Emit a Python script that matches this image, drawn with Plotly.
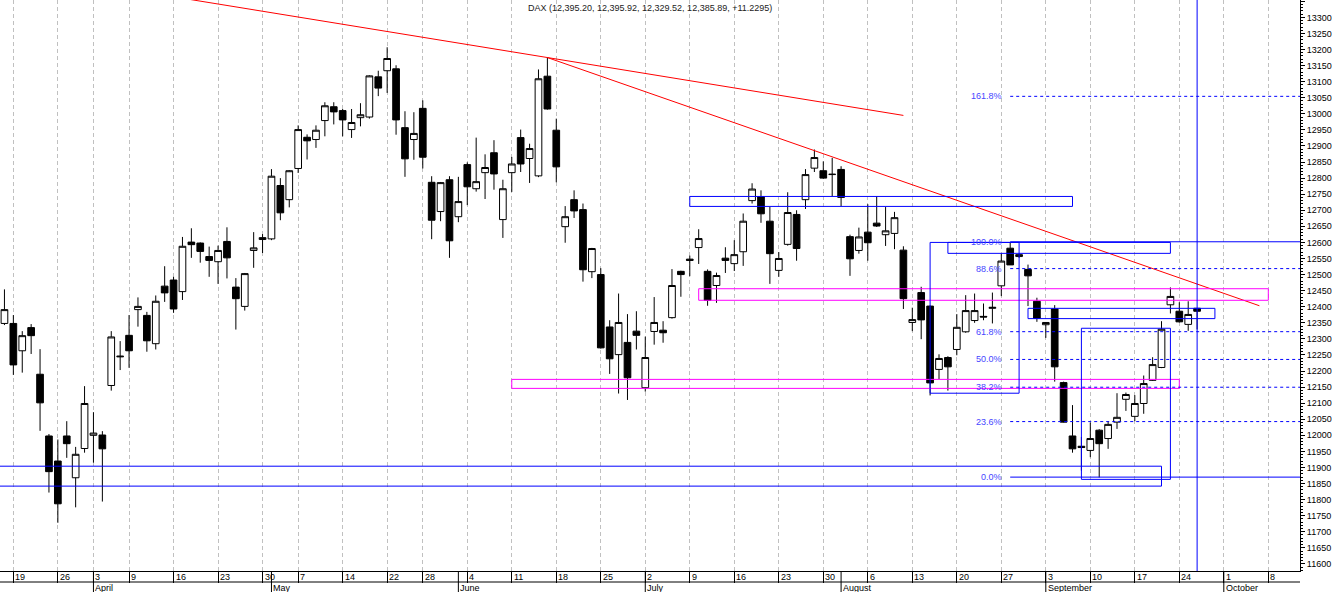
import plotly.graph_objects as go

# daily DAX candles (Xetra trading days)
dates = [
    "2018-03-16", "2018-03-19", "2018-03-20", "2018-03-21", "2018-03-22", "2018-03-23",
    "2018-03-26", "2018-03-27", "2018-03-28", "2018-03-29",
    "2018-04-03", "2018-04-04", "2018-04-05", "2018-04-06",
    "2018-04-09", "2018-04-10", "2018-04-11", "2018-04-12", "2018-04-13",
    "2018-04-16", "2018-04-17", "2018-04-18", "2018-04-19", "2018-04-20",
    "2018-04-23", "2018-04-24", "2018-04-25", "2018-04-26", "2018-04-27",
    "2018-04-30", "2018-05-02", "2018-05-03", "2018-05-04",
    "2018-05-07", "2018-05-08", "2018-05-09", "2018-05-10", "2018-05-11",
    "2018-05-14", "2018-05-15", "2018-05-16", "2018-05-17", "2018-05-18",
    "2018-05-22", "2018-05-23", "2018-05-24", "2018-05-25",
    "2018-05-28", "2018-05-29", "2018-05-30", "2018-05-31", "2018-06-01",
    "2018-06-04", "2018-06-05", "2018-06-06", "2018-06-07", "2018-06-08",
    "2018-06-11", "2018-06-12", "2018-06-13", "2018-06-14", "2018-06-15",
    "2018-06-18", "2018-06-19", "2018-06-20", "2018-06-21", "2018-06-22",
    "2018-06-25", "2018-06-26", "2018-06-27", "2018-06-28", "2018-06-29",
    "2018-07-02", "2018-07-03", "2018-07-04", "2018-07-05", "2018-07-06",
    "2018-07-09", "2018-07-10", "2018-07-11", "2018-07-12", "2018-07-13",
    "2018-07-16", "2018-07-17", "2018-07-18", "2018-07-19", "2018-07-20",
    "2018-07-23", "2018-07-24", "2018-07-25", "2018-07-26", "2018-07-27",
    "2018-07-30", "2018-07-31", "2018-08-01", "2018-08-02", "2018-08-03",
    "2018-08-06", "2018-08-07", "2018-08-08", "2018-08-09", "2018-08-10",
    "2018-08-13", "2018-08-14", "2018-08-15", "2018-08-16", "2018-08-17",
    "2018-08-20", "2018-08-21", "2018-08-22", "2018-08-23", "2018-08-24",
    "2018-08-27", "2018-08-28", "2018-08-29", "2018-08-30", "2018-08-31",
    "2018-09-03", "2018-09-04", "2018-09-05", "2018-09-06", "2018-09-07",
    "2018-09-10", "2018-09-11", "2018-09-12", "2018-09-13", "2018-09-14",
    "2018-09-17", "2018-09-18", "2018-09-19", "2018-09-20", "2018-09-21",
    "2018-09-24", "2018-09-25", "2018-09-26",
]
opens = [
    12348, 12348, 12263, 12335, 12190, 11998, 11920, 11998, 11868, 11959,
    12000, 12001, 12155, 12244, 12311, 12391, 12373, 12285, 12464,
    12483, 12447, 12601, 12598, 12556, 12540, 12603, 12461, 12401, 12575,
    12609, 12611, 12777, 12733, 12830, 12927, 12920, 12979, 13022,
    13010, 12951, 12988, 12990, 13115, 13134, 13140, 12957, 12920,
    13017, 12787, 12696, 12795, 12680, 12842, 12767, 12817, 12879, 12671,
    12817, 12926, 12861, 12807, 13117, 12949, 12649, 12733, 12702, 12509,
    12500, 12337, 12251, 12289, 12324, 12148, 12323, 12327, 12366, 12510,
    12548, 12584, 12510, 12466, 12551, 12534, 12571, 12730, 12742, 12666,
    12513, 12594, 12687, 12733, 12831, 12823, 12811, 12827, 12618, 12575,
    12632, 12660, 12624, 12628, 12576, 12351, 12444, 12402, 12205, 12242,
    12267, 12322, 12357, 12370, 12395, 12465, 12582, 12556, 12516, 12417,
    12344, 12393, 12164, 11998, 11966, 11953, 12016, 11990, 12041, 12112,
    12059, 12099, 12171, 12211, 12406, 12386, 12345, 12395.20,
]
highs = [
    12454, 12374, 12324, 12346, 12268, 12004, 11987, 12044, 11964, 12153,
    12072, 12013, 12324, 12293, 12374, 12429, 12384, 12435, 12526,
    12493, 12617, 12644, 12600, 12587, 12590, 12647, 12489, 12505, 12632,
    12626, 12828, 12800, 12825, 12964, 12936, 12964, 13036, 13036,
    13015, 13015, 13033, 13120, 13134, 13207, 13151, 13008, 13005,
    13042, 12806, 12788, 12806, 12804, 12849, 12926, 12874, 12918, 12795,
    12866, 12951, 12907, 13138, 13175, 12985, 12713, 12762, 12721, 12583,
    12520, 12358, 12441, 12377, 12386, 12307, 12430, 12355, 12517, 12512,
    12559, 12641, 12516, 12506, 12585, 12607, 12690, 12784, 12762, 12711,
    12570, 12756, 12700, 12828, 12889, 12852, 12863, 12837, 12624, 12646,
    12719, 12744, 12710, 12695, 12588, 12397, 12462, 12404, 12252, 12246,
    12377, 12436, 12441, 12410, 12444, 12566, 12601, 12566, 12531, 12428,
    12352, 12405, 12167, 12094, 11995, 12040, 12019, 12044, 12131, 12133,
    12125, 12186, 12243, 12355, 12460, 12414, 12417, 12395.92,
]
lows = [
    12343, 12188, 12195, 12253, 12014, 11822, 11728, 11930, 11776, 11946,
    11915, 11794, 12139, 12203, 12210, 12338, 12260, 12267, 12415,
    12381, 12421, 12552, 12537, 12493, 12471, 12488, 12329, 12388, 12521,
    12567, 12607, 12669, 12709, 12816, 12858, 12894, 12930, 12967,
    12930, 12925, 12961, 12985, 13055, 13065, 12935, 12804, 12857,
    12830, 12610, 12666, 12552, 12663, 12716, 12758, 12735, 12764, 12614,
    12757, 12819, 12785, 12803, 13013, 12787, 12599, 12676, 12478, 12489,
    12270, 12191, 12130, 12110, 12267, 12136, 12282, 12288, 12363, 12431,
    12495, 12533, 12403, 12412, 12505, 12511, 12527, 12721, 12661, 12471,
    12493, 12590, 12543, 12704, 12819, 12798, 12743, 12713, 12496, 12565,
    12543, 12648, 12589, 12579, 12393, 12324, 12299, 12124, 12175, 12139,
    12249, 12319, 12350, 12358, 12348, 12433, 12530, 12552, 12402, 12353,
    12303, 12167, 12040, 11946, 11890, 11932, 11869, 11958, 12020, 12076,
    12044, 12067, 12169, 12209, 12379, 12351, 12325, 12329.52,
]
closes = [
    12391, 12219, 12310, 12310, 12101, 11887, 11787, 11974, 11941, 12099,
    12007, 11958, 12306, 12246, 12263, 12401, 12294, 12417, 12443,
    12393, 12588, 12593, 12572, 12544, 12575, 12552, 12425, 12503, 12583,
    12615, 12806, 12692, 12823, 12951, 12916, 12949, 13025, 13006,
    12981, 12973, 12997, 13118, 13080, 13172, 12981, 12860, 12939,
    12865, 12669, 12786, 12605, 12727, 12773, 12789, 12833, 12813, 12767,
    12844, 12844, 12892, 13109, 13015, 12835, 12680, 12698, 12515, 12581,
    12272, 12238, 12351, 12179, 12311, 12242, 12351, 12319, 12466, 12500,
    12544, 12612, 12420, 12497, 12544, 12562, 12666, 12766, 12689, 12565,
    12550, 12693, 12581, 12811, 12864, 12800, 12812, 12740, 12549, 12617,
    12599, 12651, 12636, 12677, 12425, 12360, 12359, 12163, 12239, 12213,
    12336, 12388, 12388, 12368, 12398, 12542, 12530, 12562, 12496, 12364,
    12351, 12213, 12041, 11958, 11962, 11990, 11974, 12034, 12056, 12127,
    12099, 12161, 12220, 12330, 12432, 12353, 12376, 12385.89,
]

# empty trading days to the right of the last candle
future_dates = [
    "2018-09-27", "2018-09-28", "2018-10-01", "2018-10-02", "2018-10-03",
    "2018-10-04", "2018-10-05", "2018-10-08", "2018-10-09", "2018-10-10",
    "2018-10-11", "2018-10-12",
]

week_starts = [
    "2018-03-19", "2018-03-26", "2018-04-03", "2018-04-09", "2018-04-16",
    "2018-04-23", "2018-04-30", "2018-05-07", "2018-05-14", "2018-05-22",
    "2018-05-28", "2018-06-04", "2018-06-11", "2018-06-18", "2018-06-25",
    "2018-07-02", "2018-07-09", "2018-07-16", "2018-07-23", "2018-07-30",
    "2018-08-06", "2018-08-13", "2018-08-20", "2018-08-27", "2018-09-03",
    "2018-09-10", "2018-09-17", "2018-09-24", "2018-10-01", "2018-10-08",
]
week_labels = ["19", "26", "3", "9", "16", "23", "30", "7", "14", "22", "28",
               "4", "11", "18", "25", "2", "9", "16", "23", "30", "6", "13",
               "20", "27", "3", "10", "17", "24", "1", "8"]
month_starts = ["2018-04-03", "2018-05-02", "2018-06-01", "2018-07-02",
                "2018-08-01", "2018-09-03", "2018-10-01"]
month_labels = ["April", "May", "June", "July", "August", "September", "October"]

# fibonacci retracement (Aug 28 high -> Sep 11 low)
fib_ratios = [161.8, 100.0, 88.6, 61.8, 50.0, 38.2, 23.6, 0.0]
fib_high = 12602
fib_low = 11870
fib_start = "2018-08-28"

# trend lines: start date, price, end date, price
trend_lines = [
    ("2018-04-16", 13364, "2018-08-10", 12995),
    ("2018-06-15", 13175, "2018-10-05", 12403),
]

# rectangles: start date (None = off chart), end date, low, high, colour
boxes = [
    (None, "2018-09-20", 11842, 11904, "#0000ff"),
    ("2018-07-09", "2018-09-06", 12712, 12743, "#0000ff"),
    ("2018-07-10", "2018-10-08", 12420, 12456, "#ff00ff"),
    ("2018-06-11", "2018-09-24", 12146, 12174, "#ff00ff"),
    ("2018-08-15", "2018-08-29", 12131, 12600, "#0000ff"),
    ("2018-08-17", "2018-09-21", 12566, 12600, "#0000ff"),
    ("2018-08-30", "2018-09-28", 12363, 12395, "#0000ff"),
    ("2018-09-07", "2018-09-21", 11863, 12333, "#0000ff"),
]
cursor_date = "2018-09-26"

title_text = "DAX (12,395.20, 12,395.92, 12,329.52, 12,385.89, +11.2295)"

x_range = [-0.5, 145.56]
y_range = [11578, 13354]

pos = {d: i for i, d in enumerate(dates + future_dates)}
x = [pos[d] for d in dates]

FONT = "Liberation Sans"
plot_h = 571  # px height of the plotting area

fig = go.Figure(go.Candlestick(
    x=x, open=opens, high=highs, low=lows, close=closes,
    increasing=dict(line=dict(color="black", width=1), fillcolor="white"),
    decreasing=dict(line=dict(color="black", width=1), fillcolor="black"),
    whiskerwidth=0, showlegend=False, name="DAX",
))

for d0, p0, d1, p1 in trend_lines:
    fig.add_shape(type="line", x0=pos[d0], y0=p0, x1=pos[d1], y1=p1,
                  line=dict(color="#ff0000", width=1))

for d0, d1, lo, hi, col in boxes:
    x0 = x_range[0] - 2 if d0 is None else pos[d0]
    fig.add_shape(type="rect", x0=x0, x1=pos[d1], y0=lo, y1=hi,
                  line=dict(color=col, width=1))

fig.add_shape(type="line", x0=pos[cursor_date], x1=pos[cursor_date],
              yref="paper", y0=0, y1=1, line=dict(color="#0000ff", width=1))

for r in fib_ratios:
    level = fib_low + r / 100 * (fib_high - fib_low)
    solid = r in (0.0, 100.0)
    fig.add_shape(type="line", x0=pos[fib_start], x1=x_range[1], y0=level, y1=level,
                  line=dict(color="#0000ff", width=1,
                            dash="solid" if solid else "3px,3px"))
    fig.add_annotation(x=pos[fib_start], y=level, text=f"{r:.1f}%",
                       xanchor="right", yanchor="middle", xshift=-6,
                       showarrow=False, font=dict(family=FONT, size=9, color="#4646ff"))

# date band under the plot
for d, lab in zip(week_starts, week_labels):
    fig.add_annotation(x=pos[d], yref="paper", y=-5.5 / plot_h, text=lab,
                       xanchor="left", yanchor="middle", xshift=0, showarrow=False,
                       font=dict(family=FONT, size=9, color="black"))
for d, lab in zip(month_starts, month_labels):
    fig.add_shape(type="line", x0=pos[d], x1=pos[d], yref="paper",
                  y0=0, y1=-21 / plot_h, line=dict(color="black", width=1))
    fig.add_annotation(x=pos[d], yref="paper", y=-16.5 / plot_h, text=lab,
                       xanchor="left", yanchor="middle", xshift=0, showarrow=False,
                       font=dict(family=FONT, size=9, color="black"))
fig.add_shape(type="line", xref="paper", x0=0, x1=1, yref="paper",
              y0=-11 / plot_h, y1=-11 / plot_h, line=dict(color="black", width=1))

fig.add_annotation(xref="paper", x=0.5, yref="paper", y=1, yshift=-1, text=title_text,
                   xanchor="center", yanchor="top", showarrow=False,
                   font=dict(family=FONT, size=9, color="#222222"))

fig.update_layout(
    width=1336, height=592,
    margin=dict(l=0, r=36, t=0, b=21),
    paper_bgcolor="white", plot_bgcolor="white",
    boxgap=0.25, boxgroupgap=0,
    font=dict(family=FONT, size=9, color="black"),
    xaxis=dict(
        range=x_range, rangeslider=dict(visible=False),
        tickmode="array", tickvals=[pos[d] for d in week_starts],
        showticklabels=False, ticks="outside", ticklen=11, tickcolor="black",
        showgrid=True, gridcolor="#c0c0c0", griddash="4px,3px", gridwidth=1,
        showline=True, linecolor="black", linewidth=1, zeroline=False,
        automargin=False,
    ),
    yaxis=dict(
        range=y_range, side="right", dtick=50, tick0=0, tickformat="d",
        ticks="outside", ticklen=4, tickcolor="black",
        minor=dict(dtick=10, ticks="outside", ticklen=2, tickcolor="black", showgrid=False),
        showgrid=False, showline=True, linecolor="black", linewidth=1,
        zeroline=False, automargin=False,
        tickfont=dict(family=FONT, size=9, color="black"),
    ),
)

# the page body has a default margin; drop it so the figure sits at the corner
fig.write_html("out.html", config={"displayModeBar": False},
               post_script="document.body.style.margin = '0px';")
